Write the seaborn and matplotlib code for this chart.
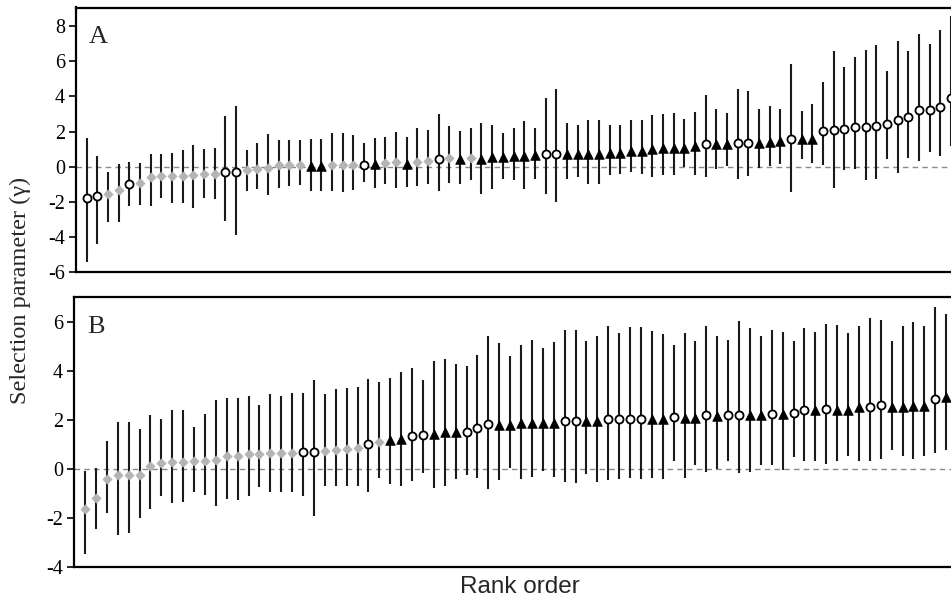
import numpy as np
import pandas as pd
import matplotlib
matplotlib.use("Agg")
import matplotlib.pyplot as plt
import seaborn as sns

# ---------------- data ----------------
# kind codes: o = open circle, d = grey diamond, t = black triangle
kind_a = list("oodd" "od" "ddddddd" "oo" "dd" "dddd" "tt" "ddd" "o" "t" "dd" "t" "dd" "o" "d" "t" "d" "t"
              "ttttt" "oo" "ttttttttttttt" "o" "tt" "oo" "ttt" "o" "tt" "ooooooooooooo")
gamma_a = [-1.75, -1.65, -1.55, -1.3, -1.0, -0.9, -0.6, -0.55, -0.5, -0.5, -0.45, -0.4, -0.4, -0.3, -0.3,
           -0.2, -0.1, -0.05, 0.1, 0.1, 0.1, 0.05, 0.05, 0.1, 0.1, 0.1, 0.1, 0.15, 0.2, 0.25, 0.15, 0.3,
           0.35, 0.45, 0.5, 0.45, 0.5, 0.45, 0.55, 0.57, 0.6, 0.6, 0.66, 0.7, 0.7, 0.7, 0.74, 0.74, 0.74,
           0.8, 0.8, 0.9, 0.9, 1.0, 1.05, 1.05, 1.08, 1.17, 1.3, 1.3, 1.3, 1.36, 1.36, 1.36, 1.42, 1.46,
           1.6, 1.6, 1.6, 2.03, 2.08, 2.16, 2.25, 2.29, 2.31, 2.44, 2.65, 2.86, 3.22, 3.24, 3.39, 3.92]
low_a = [-5.4, -4.4, -3.15, -3.15, -2.25, -2.2, -2.25, -1.8, -2.05, -2.05, -2.35, -1.75, -1.85, -3.1, -3.9,
         -1.35, -1.25, -1.6, -1.2, -1.1, -1.05, -1.4, -1.4, -1.4, -1.45, -1.3, -0.85, -1.2, -1.0, -1.2, -1.15,
         -1.1, -0.95, -1.4, -0.9, -1.0, -0.75, -1.55, -1.29, -0.68, -0.76, -1.25, -0.68, -1.57, -2.0, -0.72,
         -0.59, -1.0, -1.0, -0.49, -0.4, -0.3, -0.4, -0.57, -0.44, -0.49, -0.02, -0.44, -0.57, -0.15, 0.04,
         -0.68, -0.53, -0.06, 0.04, 0.17, -1.42, 0.45, 0.23, 0.13, -1.2, -0.2, -0.15, -0.76, -0.72, 0.47,
         -0.34, 0.51, 0.32, 0.85, 0.64, 1.2]
high_a = [1.65, 0.6, -0.3, 0.15, 0.25, 0.2, 0.75, 0.7, 0.8, 0.95, 1.25, 1.0, 1.05, 2.9, 3.45,
          0.95, 1.35, 1.84, 1.55, 1.55, 1.5, 1.6, 1.6, 1.9, 1.9, 1.8, 1.35, 1.65, 1.7, 2.0, 1.7,
          2.2, 2.1, 3.0, 2.3, 2.05, 2.2, 2.5, 2.37, 1.93, 2.2, 2.6, 2.2, 3.9, 4.4, 2.5,
          2.37, 2.65, 2.65, 2.37, 2.4, 2.65, 2.65, 2.94, 3.03, 3.07, 2.73, 3.1, 4.1, 3.26, 3.07,
          4.4, 4.3, 3.3, 3.48, 3.3, 5.85, 3.16, 3.58, 4.8, 6.6, 5.7, 6.25, 6.67, 6.9, 5.47,
          7.18, 6.6, 7.56, 7.0, 7.77, 8.6]

kind_b = list("dddddddddddddddddddd" "oo" "dddd" "o" "d" "tt" "oo" "ttt" "ooo" "tttttt" "oo" "tt"
              "oooo" "tt" "o" "tt" "o" "t" "oo" "tt" "o" "t" "oo" "t" "o" "ttt" "oo" "tttt" "o" "t")
gamma_b = [-1.63, -1.2, -0.41, -0.27, -0.27, -0.24, 0.12, 0.23, 0.26, 0.26, 0.3, 0.3, 0.34, 0.5, 0.5,
           0.6, 0.6, 0.64, 0.64, 0.64, 0.67, 0.67, 0.71, 0.78, 0.82, 0.84, 1.0, 1.09, 1.18, 1.21, 1.32,
           1.36, 1.43, 1.48, 1.48, 1.52, 1.66, 1.84, 1.8, 1.8, 1.86, 1.86, 1.86, 1.86, 1.96, 1.96, 1.93,
           1.93, 2.03, 2.03, 2.05, 2.05, 2.03, 2.03, 2.1, 2.07, 2.07, 2.18, 2.14, 2.18, 2.18, 2.18, 2.18,
           2.23, 2.23, 2.27, 2.38, 2.38, 2.44, 2.41, 2.41, 2.54, 2.54, 2.59, 2.52, 2.52, 2.57, 2.57, 2.84, 2.93]
low_b = [-3.5, -2.45, -1.81, -2.7, -2.63, -2.0, -1.63, -1.1, -1.4, -1.36, -0.93, -1.06, -1.54, -1.24, -1.27,
         -1.1, -0.76, -0.95, -0.95, -0.93, -1.13, -1.92, -0.72, -0.72, -0.72, -0.72, -0.93, -0.38, -0.63,
         -0.72, -0.52, -0.18, -0.79, -0.72, -0.4, -0.27, -0.38, -0.82, -0.45, 0.05, -0.41, -0.34, -0.08,
         -0.34, -0.56, -0.59, -0.22, -0.55, -0.48, -0.42, -0.38, -0.41, -0.38, -0.41, 0.3, -0.38, 0.14,
         -0.14, -0.02, 0.3, -0.18, -0.14, 0.14, 0.16, -0.04, 0.46, 0.3, 0.3, 0.2, 0.3, 0.52, 0.3, 0.3,
         0.39, 0.77, 0.54, 0.41, 0.54, 0.66, 0.77]
high_b = [-0.1, 0.03, 1.14, 1.9, 1.9, 1.62, 2.2, 2.03, 2.4, 2.4, 1.7, 2.23, 2.82, 2.88, 2.88,
          2.97, 2.6, 3.05, 2.98, 3.09, 3.09, 3.63, 3.05, 3.25, 3.3, 3.33, 3.67, 3.56, 3.7,
          3.95, 4.1, 3.63, 4.41, 4.48, 4.29, 4.2, 4.63, 5.4, 5.13, 4.59, 5.06, 5.27, 4.95,
          5.17, 5.65, 5.67, 5.2, 5.43, 5.84, 5.56, 5.78, 5.78, 5.63, 5.51, 5.06, 5.54, 5.2,
          5.81, 5.44, 5.27, 6.04, 5.74, 5.4, 5.67, 5.6, 5.22, 5.74, 5.6, 5.9, 5.85, 5.54, 5.81, 6.15,
          6.08, 5.2, 5.81, 6.01, 5.83, 6.59, 6.3]

yticks_a = [-6, -4, -2, 0, 2, 4, 6, 8]
yticks_b = [-4, -2, 0, 2, 4, 6]
panel_labels = ["A", "B"]

# ---------------- styling ----------------
sns.set_theme(style="white")
plt.rcParams["font.family"] = ["Liberation Serif", "DejaVu Serif"]

W, H = 951, 598
fig = plt.figure(figsize=(W / 100, H / 100), dpi=100)


def px_axes(left, top, bottom, width):
    return fig.add_axes([left / W, (H - bottom) / H, width / W, (bottom - top) / H])


styles = {
    "o": dict(marker="o", color="white", edgecolor="black", linewidth=1.3, s=34),
    "d": dict(marker="D", color="#b4b4b4", edgecolor="#b4b4b4", linewidth=0.5, s=22),
    "t": dict(marker="^", color="black", edgecolor="black", linewidth=0.5, s=48),
}


def draw_panel(ax, kinds, g, lo, hi, ylim, yticks, label, step, first_off):
    n = min(len(kinds), len(g), len(lo), len(hi))
    df = pd.DataFrame({"rank": np.arange(1, n + 1), "gamma": g[:n], "lo": lo[:n], "hi": hi[:n],
                       "kind": kinds[:n]})
    span = ax.get_position().width * W / step
    ax.axhline(0, color="#8a8a8a", lw=1.0, ls=(0, (4, 3)), zorder=0)
    ax.vlines(df["rank"], df["lo"], df["hi"], color="#1a1a1a", lw=1.5, zorder=1)
    for k, st in styles.items():
        sub = df[df["kind"] == k]
        sns.scatterplot(data=sub, x="rank", y="gamma", ax=ax, zorder=3, legend=False, **st)
    x0 = 1 - first_off / step
    ax.set_xlim(x0, x0 + span)
    ax.set_ylim(*ylim)
    ax.set_yticks(yticks)
    ax.set_yticklabels([str(t) for t in yticks], fontsize=14.5)
    ax.set_xticks([])
    ax.set_xlabel("")
    ax.set_ylabel("")
    ax.tick_params(axis="y", direction="out", length=5, width=1.2, pad=3, left=True, colors="black")
    for sp in ax.spines.values():
        sp.set_color("black")
        sp.set_linewidth(1.6)
    ax.text(0.013, 0.93, label, transform=ax.transAxes, fontsize=19, va="top", ha="left")


ax_a = px_axes(76, 7.5, 272.3, 90 * 10.67)
draw_panel(ax_a, kind_a, gamma_a, low_a, high_a, (-6, 9.06), yticks_a, panel_labels[0], 10.67, 10.7)

ax_b = px_axes(74, 297.3, 566.7, 90 * 10.9)
draw_panel(ax_b, kind_b, gamma_b, low_b, high_b, (-4, 7.0), yticks_b, panel_labels[1], 10.9, 11.0)

fig.text(20 / W, 1 - 290 / H, "Selection parameter (\u03b3)", rotation=90, ha="center", va="center",
         fontsize=17.5)
fig.text(520 / W, 1 - 587 / H, "Rank order", ha="center", va="center", fontsize=17.5,
         family=["Liberation Sans", "DejaVu Sans"])

fig.savefig("out.png", dpi=100)
